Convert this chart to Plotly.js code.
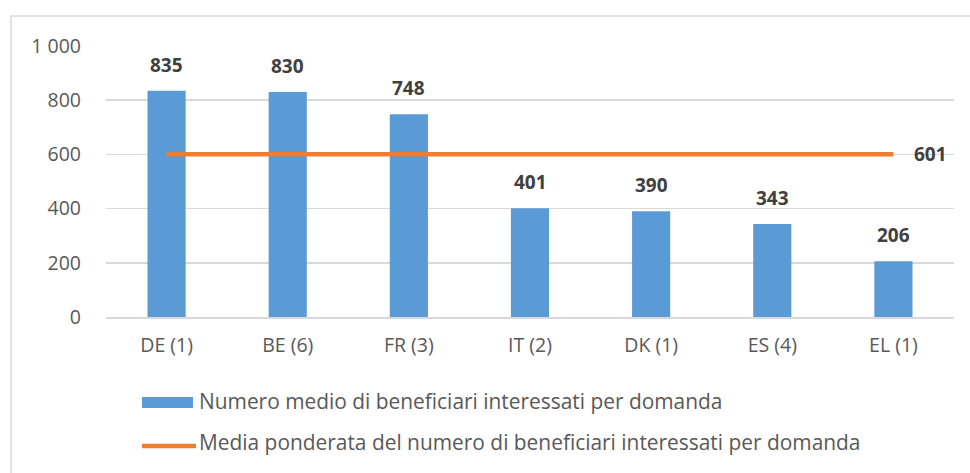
<!DOCTYPE html>
<html><head><meta charset="utf-8">
<script src="https://cdn.plot.ly/plotly-3.0.1.min.js"></script>
<style>html,body{margin:0;padding:0;background:#fff}#chart{width:970px;height:473px}</style>
</head><body><div id="chart"></div>
<script>
const categories = ["DE (1)", "BE (6)", "FR (3)", "IT (2)", "DK (1)", "ES (4)", "EL (1)"];
const avgBeneficiaries = [835, 830, 748, 401, 390, 343, 206];
const weightedAverage = [601, 601, 601, 601, 601, 601, 601];
const seriesNames = [
  "Numero medio di beneficiari interessati per domanda",
  "Media ponderata del numero di beneficiari interessati per domanda"
];
const yTicks = [0, 200, 400, 600, 800, 1000];

const FONT = "'Open Sans', sans-serif";
const W = 970, H = 473;
const M = {l: 106, r: 16, t: 46, b: 156};
const pw = W - M.l - M.r, ph = H - M.t - M.b;
const px = x => (x - M.l) / pw;
const py = y => (H - M.b - y) / ph;

const blue = "#5B9BD5", orange = "#ED7D31", grid = "#D9D9D9";

const traces = [
  {type: "bar", x: categories, y: avgBeneficiaries, name: seriesNames[0],
   marker: {color: blue}, hoverinfo: "x+y"},
  {type: "scatter", mode: "lines", x: categories, y: weightedAverage, name: seriesNames[1],
   line: {color: orange, width: 4.5}, hoverinfo: "x+y"}
];

const annotations = categories.map((c, i) => ({
  x: c, y: avgBeneficiaries[i], xref: "x", yref: "y", text: String(avgBeneficiaries[i]),
  showarrow: false, yanchor: "bottom", yshift: 11,
  font: {family: FONT, size: 19, color: "#404040", weight: "bold"}
}));
const last = categories.length - 1;
annotations.push({
  x: categories[last], y: weightedAverage[last], xref: "x", yref: "y",
  text: String(weightedAverage[last]), showarrow: false, xanchor: "left", xshift: 19,
  font: {family: FONT, size: 19, color: "#404040", weight: "bold"}
});
annotations.push({x: px(197), y: py(401), xref: "paper", yref: "paper", text: seriesNames[0],
  showarrow: false, xanchor: "left", yanchor: "middle", font: {family: FONT, size: 20.9, color: "#595959"}});
annotations.push({x: px(197), y: py(442), xref: "paper", yref: "paper", text: seriesNames[1],
  showarrow: false, xanchor: "left", yanchor: "middle", font: {family: FONT, size: 20.9, color: "#595959"}});

const shapes = [
  {type: "rect", xref: "paper", yref: "paper", x0: px(11), x1: px(990), y0: py(16), y1: py(500),
   line: {color: grid, width: 1.5}, fillcolor: "rgba(0,0,0,0)", layer: "below"},
  {type: "rect", xref: "paper", yref: "paper", x0: px(142), x1: px(193), y0: py(397), y1: py(408),
   line: {width: 0}, fillcolor: blue},
  {type: "line", xref: "paper", yref: "paper", x0: px(142), x1: px(196), y0: py(446), y1: py(446),
   line: {color: orange, width: 4.5}}
];

const layout = {
  width: W, height: H, margin: M, paper_bgcolor: "#fff", plot_bgcolor: "#fff",
  showlegend: false, bargap: 0.685, separators: ", ",
  font: {family: FONT, color: "#595959"},
  xaxis: {type: "category", showgrid: false, showline: true, linecolor: grid, linewidth: 1.5,
    ticks: "", tickfont: {family: FONT, size: 19.5, color: "#595959"}, ticklabelstandoff: 10, fixedrange: true},
  yaxis: {range: [0, 1000], tickvals: yTicks, tickformat: ",d", showgrid: true, gridcolor: grid, gridwidth: 1.5,
    zeroline: false, showline: false, ticks: "", tickfont: {family: FONT, size: 19.5, color: "#595959"},
    ticklabelstandoff: 24, fixedrange: true},
  annotations, shapes
};

Plotly.newPlot("chart", traces, layout, {displayModeBar: false, staticPlot: true});
</script></body></html>
